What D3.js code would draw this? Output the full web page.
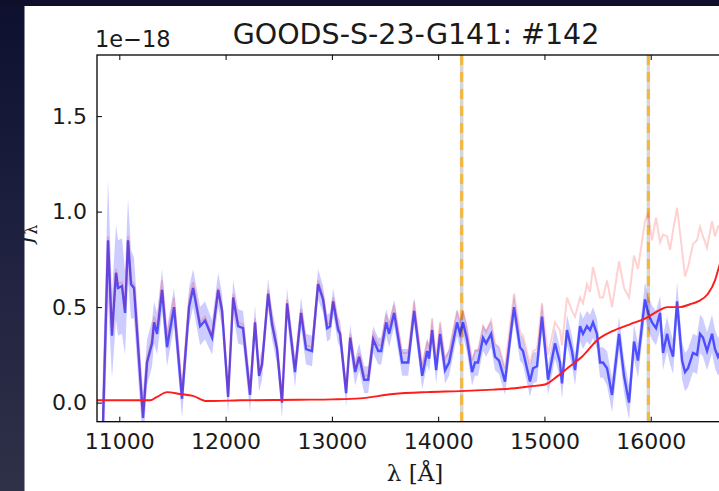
<!DOCTYPE html>
<html>
<head>
<meta charset="utf-8">
<script src="https://cdn.jsdelivr.net/npm/d3@7"></script>
<style>
  html, body { margin: 0; padding: 0; background: #ffffff; }
  svg { display: block; }
</style>
</head>
<body>
<svg id="chart" width="719" height="491"></svg>
<script>
// ---- data ----
const title = "GOODS-S-23-G141: #142";
const xTicks = [11000, 12000, 13000, 14000, 15000, 16000];
const yTicks = [0.0, 0.5, 1.0, 1.5];
const yTickLabels = ["0.0", "0.5", "1.0", "1.5"];
const lineMarkers = [14221, 15978];

const wave = [10837,10894,10931,10969,10988,11025,11054,11082,11110,11138,11223,11261,11308,11327,11355,11374,11402,11449,11515,11590,
  11656,11694,11760,11807,11873,11930,11967,12024,12071,12118,12164,12230,12277,12315,12343,12400,12437,12484,12531,12578,
  12653,12710,12757,12813,12870,12917,12955,12983,13012,13059,13077,13134,13172,13219,13257,13304,13342,13389,13436,13464,
  13511,13539,13586,13661,13718,13774,13850,13897,13915,13943,13981,14018,14065,14103,14178,14206,14234,14272,14319,14347,
  14375,14422,14451,14498,14535,14573,14629,14676,14714,14770,14798,14864,14893,14930,14977,15005,15034,15099,15146,15165,
  15212,15259,15288,15335,15363,15400,15429,15457,15494,15523,15551,15589,15636,15702,15749,15796,15843,15880,15946,15975,
  16012,16050,16088,16116,16154,16182,16210,16248,16295,16323,16351,16398,16436,16464,16492,16530,16577,16605,16633,16689,16793];

const flux = [-0.30,0.85,0.35,0.68,0.60,0.61,0.47,0.85,0.62,0.60,-0.08,0.21,0.31,0.42,0.36,0.45,0.59,0.29,0.50,0.02,
  0.50,0.60,0.40,0.43,0.34,0.59,0.48,0.03,0.55,0.40,0.39,0.04,0.42,0.14,0.20,0.57,0.41,0.28,0.00,0.52,
  0.16,0.47,0.28,0.27,0.62,0.54,0.39,0.40,0.53,0.38,0.36,0.05,0.34,0.16,0.24,0.12,0.12,0.33,0.27,0.27,
  0.42,0.36,0.47,0.21,0.21,0.48,0.14,0.27,0.23,0.38,0.17,0.36,0.17,0.21,0.42,0.36,0.42,0.33,0.16,0.21,
  0.21,0.34,0.31,0.36,0.24,0.22,0.11,0.33,0.50,0.29,0.27,0.11,0.18,0.19,0.45,0.29,0.12,0.31,0.21,0.10,
  0.38,0.27,0.17,0.40,0.36,0.40,0.38,0.42,0.36,0.21,0.21,0.18,0.04,0.36,0.14,0.00,0.32,0.22,0.54,0.47,
  0.42,0.39,0.47,0.26,0.36,0.29,0.24,0.53,0.22,0.16,0.18,0.26,0.25,0.36,0.34,0.27,0.36,0.28,0.24,0.30,0.25];

const fluxErr = [0.30,0.32,0.22,0.25,0.25,0.25,0.22,0.22,0.18,0.16,0.14,0.12,0.12,0.11,0.11,0.11,0.11,0.10,0.10,0.10,
  0.10,0.10,0.10,0.10,0.09,0.09,0.09,0.09,0.09,0.09,0.09,0.09,0.09,0.08,0.08,0.08,0.08,0.08,0.08,0.08,
  0.08,0.08,0.08,0.08,0.08,0.07,0.07,0.07,0.07,0.07,0.07,0.07,0.07,0.07,0.07,0.07,0.07,0.07,0.07,0.07,
  0.07,0.07,0.07,0.07,0.07,0.07,0.07,0.07,0.07,0.07,0.07,0.07,0.07,0.07,0.07,0.07,0.07,0.07,0.07,0.07,
  0.07,0.07,0.07,0.07,0.07,0.07,0.07,0.07,0.07,0.07,0.07,0.08,0.08,0.08,0.08,0.08,0.08,0.08,0.08,0.08,
  0.08,0.08,0.08,0.08,0.08,0.08,0.08,0.08,0.08,0.08,0.08,0.09,0.09,0.09,0.09,0.09,0.09,0.09,0.09,0.09,
  0.09,0.09,0.09,0.09,0.09,0.09,0.09,0.10,0.10,0.10,0.10,0.10,0.10,0.10,0.10,0.10,0.10,0.10,0.10,0.10,0.10];

const fluxRaw = [-0.28,0.87,0.37,0.70,0.62,0.63,0.49,0.87,0.64,0.62,-0.06,0.23,0.34,0.45,0.40,0.49,0.64,0.34,0.55,0.06,
  0.54,0.63,0.42,0.45,0.35,0.60,0.49,0.04,0.57,0.42,0.41,0.05,0.44,0.15,0.21,0.59,0.43,0.29,0.01,0.54,
  0.18,0.49,0.30,0.29,0.64,0.56,0.41,0.42,0.55,0.40,0.38,0.07,0.36,0.18,0.26,0.14,0.14,0.36,0.30,0.30,
  0.46,0.40,0.51,0.26,0.26,0.53,0.19,0.32,0.28,0.44,0.23,0.42,0.23,0.27,0.48,0.42,0.48,0.39,0.22,0.27,
  0.27,0.40,0.37,0.43,0.31,0.29,0.18,0.40,0.57,0.37,0.35,0.20,0.27,0.28,0.52,0.38,0.25,0.42,0.38,0.30,
  0.55,0.48,0.45,0.55,0.52,0.62,0.58,0.71,0.62,0.55,0.55,0.64,0.50,0.74,0.60,0.55,0.77,0.70,0.95,0.99,
  0.85,0.97,0.84,0.88,0.87,0.80,0.90,1.02,0.80,0.66,0.71,0.83,0.85,0.92,0.87,0.81,0.95,0.87,0.92,0.95,0.90];

const contamWave = [10790,11289,11355,11449,11571,11693,11825,12136,12700,13011,13265,13576,13895,14206,14516,14723,14864,15005,15127,15240,
  15353,15503,15663,15804,15946,16087,16153,16276,16370,16445,16539,16605,16642,16746];
const contam = [0.012,0.012,0.030,0.055,0.045,0.035,0.008,0.012,0.015,0.017,0.022,0.045,0.055,0.060,0.068,0.075,0.085,0.095,0.140,0.190,
  0.240,0.330,0.380,0.410,0.440,0.485,0.500,0.500,0.515,0.530,0.570,0.640,0.710,0.900];

// ---- layout ----
const svg = d3.select("#chart");
const L = 97, T = 55, B = 421.7, R = 757;
const x = d3.scaleLinear().domain([10790, 17000]).range([L, R]);
const y = d3.scaleLinear().domain([-0.1, 1.82]).range([B, T]);

const defs = svg.append("defs");
defs.append("clipPath").attr("id", "clip")
  .append("rect").attr("x", L).attr("y", T).attr("width", R - L).attr("height", B - T);
defs.append("filter").attr("id", "soft").append("feGaussianBlur").attr("stdDeviation", 0.45);

const spec = wave.map((w, i) => ({w, f: flux[i], e: fluxErr[i], r: fluxRaw[i]}));
const cont = contamWave.map((w, i) => ({w, c: contam[i]}));

const plot = svg.append("g").attr("clip-path", "url(#clip)").append("g").attr("filter", "url(#soft)");

// marker lines
lineMarkers.forEach(lm => {
  plot.append("line").attr("x1", x(lm)).attr("x2", x(lm)).attr("y1", T).attr("y2", B)
    .attr("stroke", "#d6d6d6").attr("stroke-width", 3.5);
  plot.append("line").attr("x1", x(lm)).attr("x2", x(lm)).attr("y1", T).attr("y2", B)
    .attr("stroke", "#f4b63c").attr("stroke-width", 3).attr("stroke-dasharray", "10,7");
});

// error band
plot.append("path").datum(spec)
  .attr("d", d3.area().x(d => x(d.w)).y0(d => y(d.f - d.e)).y1(d => y(d.f + d.e)))
  .attr("fill", "#0000ff").attr("fill-opacity", 0.2).attr("stroke", "none");

// blue spectrum
plot.append("path").datum(spec)
  .attr("d", d3.line().x(d => x(d.w)).y(d => y(d.f)))
  .attr("fill", "none").attr("stroke", "#0000ff").attr("stroke-opacity", 0.62).attr("stroke-width", 2.4);

// raw (uncorrected) spectrum, faint red
plot.append("path").datum(spec)
  .attr("d", d3.line().x(d => x(d.w)).y(d => y(d.r)))
  .attr("fill", "none").attr("stroke", "#ff0000").attr("stroke-opacity", 0.18).attr("stroke-width", 2);

// contamination model
plot.append("path").datum(cont)
  .attr("d", d3.line().curve(d3.curveMonotoneX).x(d => x(d.w)).y(d => y(d.c)))
  .attr("fill", "none").attr("stroke", "#ff1a1a").attr("stroke-width", 1.9);

// frame
svg.append("rect").attr("x", L).attr("y", T).attr("width", R - L).attr("height", B - T)
  .attr("fill", "none").attr("stroke", "#000").attr("stroke-width", 1.3);

// axes
const xAxisB = d3.axisBottom(x).tickValues(xTicks).tickSizeInner(-5).tickSizeOuter(0).tickPadding(12).tickFormat(d3.format("d"));
const gx = svg.append("g").attr("transform", `translate(0,${B})`).call(xAxisB);
const xAxisT = d3.axisTop(x).tickValues(xTicks).tickSizeInner(-5).tickSizeOuter(0).tickFormat("");
const gxt = svg.append("g").attr("transform", `translate(0,${T})`).call(xAxisT);
const yAxisL = d3.axisLeft(y).tickValues(yTicks).tickSizeInner(-5).tickSizeOuter(0).tickPadding(10)
  .tickFormat((d, i) => yTickLabels[i]);
const gy = svg.append("g").attr("transform", `translate(${L},0)`).call(yAxisL);
[gx, gxt, gy].forEach(g => {
  g.select(".domain").remove();
  g.selectAll(".tick line").attr("stroke", "#000").attr("stroke-width", 1);
  g.selectAll("text").attr("fill", "#1a1a1a").style("font-family", "DejaVu Sans").style("font-size", "22px");
});

// title and offset text
svg.append("text").attr("x", 416).attr("y", 44).attr("text-anchor", "middle")
  .style("font-family", "DejaVu Sans").style("font-size", "28.5px").attr("fill", "#1a1a1a").text(title);
svg.append("text").attr("x", 95).attr("y", 47).attr("text-anchor", "start")
  .style("font-family", "DejaVu Sans").style("font-size", "22.5px").attr("fill", "#1a1a1a").text("1e\u221218");

// axis labels
svg.append("text").attr("x", 415).attr("y", 481).attr("text-anchor", "middle")
  .style("font-family", "DejaVu Serif").style("font-size", "23px").attr("fill", "#1a1a1a").text("\u03bb [\u00c5]");
const yl = svg.append("text").attr("transform", "translate(32,234) rotate(-90)").attr("text-anchor", "middle")
  .style("font-family", "DejaVu Serif").style("font-size", "23px").attr("fill", "#1a1a1a");
yl.append("tspan").style("font-style", "italic").text("f");
yl.append("tspan").attr("dy", 5).style("font-size", "16px").text("\u03bb");

// dark surroundings of the photographed slide
const grad = defs.append("linearGradient").attr("id", "dark").attr("x1", 0).attr("y1", 0).attr("x2", 0).attr("y2", 1);
grad.append("stop").attr("offset", "0%").attr("stop-color", "#0e1030");
grad.append("stop").attr("offset", "50%").attr("stop-color", "#1f2140");
grad.append("stop").attr("offset", "100%").attr("stop-color", "#2f3148");
svg.append("rect").attr("x", 0).attr("y", 0).attr("width", 24.5).attr("height", 491).attr("fill", "url(#dark)");
svg.append("rect").attr("x", 0).attr("y", 0).attr("width", 719).attr("height", 6).attr("fill", "#0e0f2a");
</script>
</body>
</html>
